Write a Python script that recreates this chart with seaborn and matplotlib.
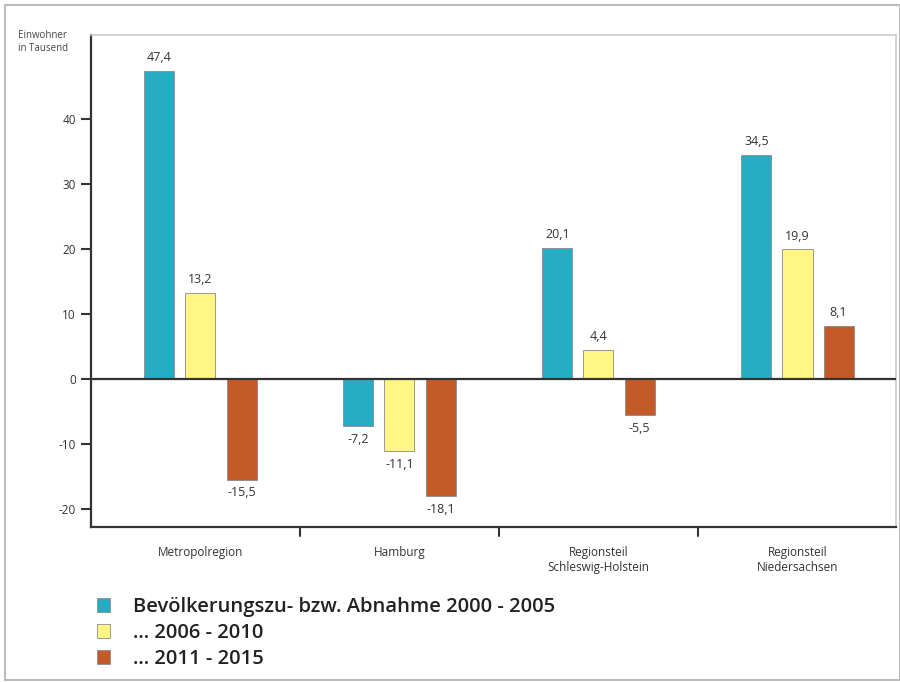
import matplotlib
matplotlib.use("Agg")
import matplotlib.pyplot as plt
from matplotlib.patches import Rectangle, Patch
import seaborn as sns
import pandas as pd

# Population change in thousands per region and period
regions = ["Metropolregion", "Hamburg", "Regionsteil\nSchleswig-Holstein", "Regionsteil\nNiedersachsen"]
periods = ["Bevölkerungszu- bzw. Abnahme 2000 - 2005", "... 2006 - 2010", "... 2011 - 2015"]
change_2000_2005 = [47.4, -7.2, 20.1, 34.5]
change_2006_2010 = [13.2, -11.1, 4.4, 19.9]
change_2011_2015 = [-15.5, -18.1, -5.5, 8.1]
yticks = [-20, -10, 0, 10, 20, 30, 40]
colors = ["#27adc3", "#fff684", "#c45a28"]

rows = []
for period, vals in zip(periods, [change_2000_2005, change_2006_2010, change_2011_2015]):
    for reg, v in zip(regions, vals):
        rows.append({"Region": reg, "Zeitraum": period, "Wert": v})
df = pd.DataFrame(rows)

sns.set_style("white")
plt.rcParams["font.family"] = ["Open Sans", "DejaVu Sans"]

fig = plt.figure(figsize=(9, 6.82), dpi=100)
ax = fig.add_axes([91 / 900, 1 - 527 / 682, (896 - 91) / 900, (527 - 35) / 682])

sns.barplot(data=df, x="Region", y="Wert", hue="Zeitraum", order=regions,
            hue_order=periods, palette=colors, width=0.62, gap=0.27,
            edgecolor="#8a8a8a", linewidth=0.6, saturation=1, ax=ax)

# value labels with German decimal comma
for cont in ax.containers:
    for bar in cont:
        h = bar.get_height()
        x = bar.get_x() + bar.get_width() / 2
        txt = f"{h:.1f}".replace(".", ",")
        if h >= 0:
            ax.annotate(txt, (x, h), xytext=(0, 5), textcoords="offset points",
                        ha="center", va="bottom", fontsize=9, color="#333333")
        else:
            ax.annotate(txt, (x, h), xytext=(0, -5), textcoords="offset points",
                        ha="center", va="top", fontsize=9, color="#333333")

ax.set_ylim(-22.8, 52.9)
ax.set_xlim(-0.55, 3.495)
ax.set_yticks(yticks)
ax.set_yticklabels([str(t) for t in yticks], fontsize=8.5, color="#333333")
ax.set_xticks(range(len(regions)))
ax.set_xticklabels(regions, fontsize=8.5, color="#333333")
ax.tick_params(axis="x", length=0, pad=14)
ax.tick_params(axis="y", left=True, length=7, width=1.5, color="#333333", pad=4)
ax.set_xlabel("")
ax.set_ylabel("")

# category separators on the x axis
for b in [0.5, 1.5, 2.5]:
    ax.plot([b, b], [0, -0.018], transform=ax.get_xaxis_transform(),
            color="#333333", lw=1.5, clip_on=False)

ax.axhline(0, color="#333333", lw=1.6, zorder=3)
for side in ["left", "bottom"]:
    ax.spines[side].set_color("#333333")
    ax.spines[side].set_linewidth(1.6)
for side in ["top", "right"]:
    ax.spines[side].set_color("#cccccc")
    ax.spines[side].set_linewidth(1.2)

fig.text(18 / 900, 1 - 42 / 682, "Einwohner\nin Tausend", fontsize=7,
         color="#444444", va="center", ha="left", linespacing=1.3)

# legend below the chart
ax.get_legend().remove()
handles = [Patch(facecolor=c, edgecolor="#8a8a8a", linewidth=0.6) for c in colors]
fig.legend(handles, periods, loc="upper left", bbox_to_anchor=(97 / 900, 1 - 597 / 682),
           frameon=False, prop={"size": 14.5, "weight": "semibold"},
           handlelength=0.65, handleheight=0.65,
           handletextpad=1.15, labelspacing=0.3, borderaxespad=0, borderpad=0,
           labelcolor="#222222")

# outer frame
fig.patches.append(Rectangle((5 / 900, 2 / 682), 895 / 900, 675 / 682,
                             transform=fig.transFigure, fill=False,
                             edgecolor="#bbbbbb", linewidth=1.5))

fig.savefig("out.png", dpi=100)
